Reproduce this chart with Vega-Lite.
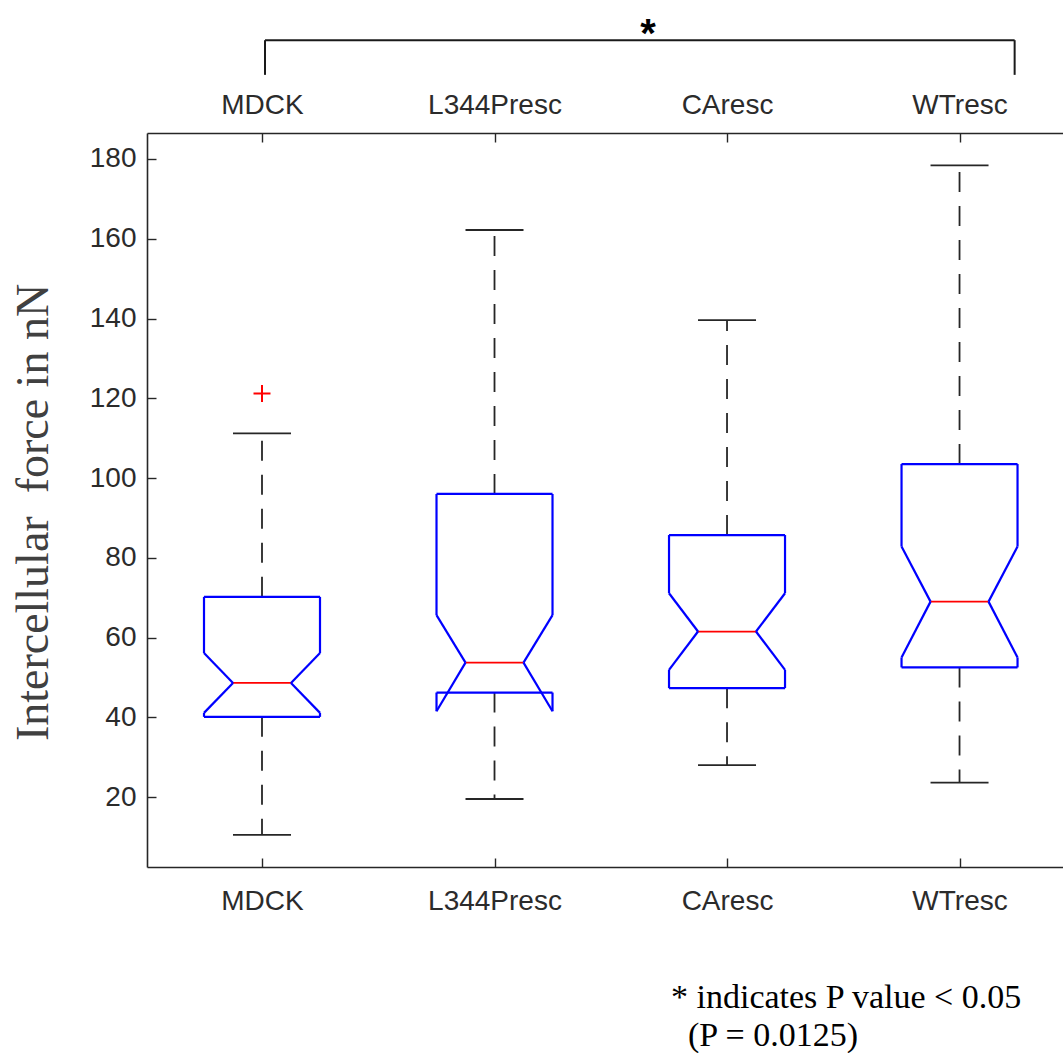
{
  "$schema": "https://vega.github.io/schema/vega-lite/v6.json",
  "width": 916,
  "height": 734,
  "autosize": {"type": "none"},
  "padding": {"left": 147, "top": 133, "right": 0, "bottom": 186},
  "background": "white",
  "resolve": {"axis": {"x": "independent", "y": "independent"}},
  "config": {
    "view": {"stroke": null},
    "axis": {
      "grid": false,
      "domainColor": "#262626",
      "domainWidth": 1.6,
      "tickColor": "#262626",
      "tickWidth": 1.4,
      "tickSize": -9,
      "labelFont": "Liberation Sans",
      "labelFontSize": 28,
      "labelColor": "#2b2b2b",
      "titleFont": "Liberation Serif",
      "titleFontWeight": "normal"
    },
    "axisY": {
      "titleFontSize": 46,
      "titleColor": "#404040",
      "titleAngle": -90,
      "titleX": -100,
      "titleY": 379,
      "titleAlign": "center",
      "titleBaseline": "alphabetic"
    }
  },
  "title": {
    "text": ["* indicates P value < 0.05", "\u200b\u00a0\u00a0(P = 0.0125)"],
    "orient": "bottom",
    "anchor": "start",
    "frame": "group",
    "dx": 524,
    "offset": 66,
    "baseline": "top",
    "font": "Liberation Serif",
    "fontSize": 34,
    "fontWeight": "normal",
    "color": "#000000",
    "lineHeight": 38
  },
  "datasets": {
    "boxes": [
      {"group": "MDCK", "pos": 1, "whiskerLo": 10.5, "q1": 40.1, "notchLo": 41.1, "median": 48.6, "notchHi": 56.1, "q3": 70.2, "whiskerHi": 111.2},
      {"group": "L344Presc", "pos": 2, "whiskerLo": 19.5, "q1": 46.2, "notchLo": 41.5, "median": 53.7, "notchHi": 65.6, "q3": 96.0, "whiskerHi": 162.2},
      {"group": "CAresc", "pos": 3, "whiskerLo": 28.0, "q1": 47.3, "notchLo": 51.9, "median": 61.5, "notchHi": 71.1, "q3": 85.7, "whiskerHi": 139.6},
      {"group": "WTresc", "pos": 4, "whiskerLo": 23.6, "q1": 52.5, "notchLo": 55.0, "median": 69.0, "notchHi": 82.8, "q3": 103.5, "whiskerHi": 178.4}
    ],
    "outliers": [
      {"group": "MDCK", "pos": 1, "value": 121.2}
    ],
    "annotation": [
      {"comparison": "MDCK vs WTresc", "start": 1.013, "end": 4.237, "level": 209.8, "legEnd": 201.1, "marker": "*", "markerPos": 2.66, "markerLevel": 208.0}
    ]
  },
  "layer": [
    {
      "data": {"name": "boxes"},
      "mark": {"type": "rule", "color": "#ff0000", "strokeWidth": 1.8, "xOffset": -29, "x2Offset": 29},
      "encoding": {
        "x": {"field": "pos", "type": "quantitative", "scale": {"domain": [0.5054, 4.445], "nice": false, "zero": false},
          "axis": {"orient": "bottom", "values": [1, 2, 3, 4], "labelExpr": "['', 'MDCK', 'L344Presc', 'CAresc', 'WTresc'][datum.value]", "labelPadding": 29, "title": null}},
        "x2": {"field": "pos"},
        "y": {"field": "median", "type": "quantitative", "scale": {"domain": [2.45, 186.52], "nice": false, "zero": false},
          "axis": {"orient": "left", "values": [20, 40, 60, 80, 100, 120, 140, 160, 180], "labelPadding": 20, "title": "Intercellular\u00a0 force in nN"}}
      }
    },
    {
      "data": {"name": "boxes"},
      "mark": {"type": "rule", "color": "#262626", "strokeWidth": 1.8, "strokeDash": [20, 14]},
      "encoding": {
        "x": {"field": "pos", "type": "quantitative", "scale": {"domain": [0.5054, 4.445], "nice": false, "zero": false},
          "axis": {"orient": "top", "values": [1, 2, 3, 4], "labelExpr": "['', 'MDCK', 'L344Presc', 'CAresc', 'WTresc'][datum.value]", "labelPadding": 23, "title": null}},
        "y": {"field": "q3", "type": "quantitative", "scale": {"domain": [2.45, 186.52], "nice": false, "zero": false}, "axis": null},
        "y2": {"field": "whiskerHi"}
      }
    },
    {
      "data": {"name": "boxes"},
      "mark": {"type": "rule", "color": "#262626", "strokeWidth": 1.8, "strokeDash": [20, 14]},
      "encoding": {
        "x": {"field": "pos", "type": "quantitative", "scale": {"domain": [0.5054, 4.445], "nice": false, "zero": false}, "axis": null},
        "y": {"field": "q1", "type": "quantitative", "scale": {"domain": [2.45, 186.52], "nice": false, "zero": false}, "axis": null},
        "y2": {"field": "whiskerLo"}
      }
    },
    {
      "data": {"name": "boxes"},
      "mark": {"type": "rule", "color": "#262626", "strokeWidth": 1.8, "xOffset": -29, "x2Offset": 29},
      "encoding": {
        "x": {"field": "pos", "type": "quantitative", "scale": {"domain": [0.5054, 4.445], "nice": false, "zero": false}, "axis": null},
        "x2": {"field": "pos"},
        "y": {"field": "whiskerHi", "type": "quantitative", "scale": {"domain": [2.45, 186.52], "nice": false, "zero": false}, "axis": null}
      }
    },
    {
      "data": {"name": "boxes"},
      "mark": {"type": "rule", "color": "#262626", "strokeWidth": 1.8, "xOffset": -29, "x2Offset": 29},
      "encoding": {
        "x": {"field": "pos", "type": "quantitative", "scale": {"domain": [0.5054, 4.445], "nice": false, "zero": false}, "axis": null},
        "x2": {"field": "pos"},
        "y": {"field": "whiskerLo", "type": "quantitative", "scale": {"domain": [2.45, 186.52], "nice": false, "zero": false}, "axis": null}
      }
    },
    {
      "data": {"name": "boxes"},
      "mark": {"type": "rule", "color": "#0000ff", "strokeWidth": 2.2, "xOffset": -58, "x2Offset": 58},
      "encoding": {
        "x": {"field": "pos", "type": "quantitative", "scale": {"domain": [0.5054, 4.445], "nice": false, "zero": false}, "axis": null},
        "x2": {"field": "pos"},
        "y": {"field": "q3", "type": "quantitative", "scale": {"domain": [2.45, 186.52], "nice": false, "zero": false}, "axis": null}
      }
    },
    {
      "data": {"name": "boxes"},
      "mark": {"type": "rule", "color": "#0000ff", "strokeWidth": 2.2, "xOffset": -58, "x2Offset": 58},
      "encoding": {
        "x": {"field": "pos", "type": "quantitative", "scale": {"domain": [0.5054, 4.445], "nice": false, "zero": false}, "axis": null},
        "x2": {"field": "pos"},
        "y": {"field": "q1", "type": "quantitative", "scale": {"domain": [2.45, 186.52], "nice": false, "zero": false}, "axis": null}
      }
    },
    {
      "data": {"name": "boxes"},
      "mark": {"type": "rule", "color": "#0000ff", "strokeWidth": 2.2, "xOffset": -58},
      "encoding": {
        "x": {"field": "pos", "type": "quantitative", "scale": {"domain": [0.5054, 4.445], "nice": false, "zero": false}, "axis": null},
        "y": {"field": "q3", "type": "quantitative", "scale": {"domain": [2.45, 186.52], "nice": false, "zero": false}, "axis": null},
        "y2": {"field": "notchHi"}
      }
    },
    {
      "data": {"name": "boxes"},
      "mark": {"type": "rule", "color": "#0000ff", "strokeWidth": 2.2, "xOffset": 58},
      "encoding": {
        "x": {"field": "pos", "type": "quantitative", "scale": {"domain": [0.5054, 4.445], "nice": false, "zero": false}, "axis": null},
        "y": {"field": "q3", "type": "quantitative", "scale": {"domain": [2.45, 186.52], "nice": false, "zero": false}, "axis": null},
        "y2": {"field": "notchHi"}
      }
    },
    {
      "data": {"name": "boxes"},
      "mark": {"type": "rule", "color": "#0000ff", "strokeWidth": 2.2, "xOffset": -58},
      "encoding": {
        "x": {"field": "pos", "type": "quantitative", "scale": {"domain": [0.5054, 4.445], "nice": false, "zero": false}, "axis": null},
        "y": {"field": "notchLo", "type": "quantitative", "scale": {"domain": [2.45, 186.52], "nice": false, "zero": false}, "axis": null},
        "y2": {"field": "q1"}
      }
    },
    {
      "data": {"name": "boxes"},
      "mark": {"type": "rule", "color": "#0000ff", "strokeWidth": 2.2, "xOffset": 58},
      "encoding": {
        "x": {"field": "pos", "type": "quantitative", "scale": {"domain": [0.5054, 4.445], "nice": false, "zero": false}, "axis": null},
        "y": {"field": "notchLo", "type": "quantitative", "scale": {"domain": [2.45, 186.52], "nice": false, "zero": false}, "axis": null},
        "y2": {"field": "q1"}
      }
    },
    {
      "data": {"name": "boxes"},
      "mark": {"type": "rule", "color": "#0000ff", "strokeWidth": 2.2, "xOffset": -58, "x2Offset": -29},
      "encoding": {
        "x": {"field": "pos", "type": "quantitative", "scale": {"domain": [0.5054, 4.445], "nice": false, "zero": false}, "axis": null},
        "x2": {"field": "pos"},
        "y": {"field": "notchHi", "type": "quantitative", "scale": {"domain": [2.45, 186.52], "nice": false, "zero": false}, "axis": null},
        "y2": {"field": "median"}
      }
    },
    {
      "data": {"name": "boxes"},
      "mark": {"type": "rule", "color": "#0000ff", "strokeWidth": 2.2, "xOffset": 58, "x2Offset": 29},
      "encoding": {
        "x": {"field": "pos", "type": "quantitative", "scale": {"domain": [0.5054, 4.445], "nice": false, "zero": false}, "axis": null},
        "x2": {"field": "pos"},
        "y": {"field": "notchHi", "type": "quantitative", "scale": {"domain": [2.45, 186.52], "nice": false, "zero": false}, "axis": null},
        "y2": {"field": "median"}
      }
    },
    {
      "data": {"name": "boxes"},
      "mark": {"type": "rule", "color": "#0000ff", "strokeWidth": 2.2, "xOffset": -58, "x2Offset": -29},
      "encoding": {
        "x": {"field": "pos", "type": "quantitative", "scale": {"domain": [0.5054, 4.445], "nice": false, "zero": false}, "axis": null},
        "x2": {"field": "pos"},
        "y": {"field": "notchLo", "type": "quantitative", "scale": {"domain": [2.45, 186.52], "nice": false, "zero": false}, "axis": null},
        "y2": {"field": "median"}
      }
    },
    {
      "data": {"name": "boxes"},
      "mark": {"type": "rule", "color": "#0000ff", "strokeWidth": 2.2, "xOffset": 58, "x2Offset": 29},
      "encoding": {
        "x": {"field": "pos", "type": "quantitative", "scale": {"domain": [0.5054, 4.445], "nice": false, "zero": false}, "axis": null},
        "x2": {"field": "pos"},
        "y": {"field": "notchLo", "type": "quantitative", "scale": {"domain": [2.45, 186.52], "nice": false, "zero": false}, "axis": null},
        "y2": {"field": "median"}
      }
    },
    {
      "data": {"name": "outliers"},
      "mark": {"type": "point", "shape": "M-1,0L1,0M0,-1L0,1", "filled": false, "stroke": "#ff0000", "strokeWidth": 2, "size": 289, "opacity": 1},
      "encoding": {
        "x": {"field": "pos", "type": "quantitative", "scale": {"domain": [0.5054, 4.445], "nice": false, "zero": false}, "axis": null},
        "y": {"field": "value", "type": "quantitative", "scale": {"domain": [2.45, 186.52], "nice": false, "zero": false}, "axis": null}
      }
    },
    {
      "data": {"name": "annotation"},
      "mark": {"type": "rule", "color": "#1a1a1a", "strokeWidth": 2},
      "encoding": {
        "x": {"field": "start", "type": "quantitative", "scale": {"domain": [0.5054, 4.445], "nice": false, "zero": false}, "axis": null},
        "x2": {"field": "end"},
        "y": {"field": "level", "type": "quantitative", "scale": {"domain": [2.45, 186.52], "nice": false, "zero": false}, "axis": null}
      }
    },
    {
      "data": {"name": "annotation"},
      "mark": {"type": "rule", "color": "#1a1a1a", "strokeWidth": 2},
      "encoding": {
        "x": {"field": "start", "type": "quantitative", "scale": {"domain": [0.5054, 4.445], "nice": false, "zero": false}, "axis": null},
        "y": {"field": "level", "type": "quantitative", "scale": {"domain": [2.45, 186.52], "nice": false, "zero": false}, "axis": null},
        "y2": {"field": "legEnd"}
      }
    },
    {
      "data": {"name": "annotation"},
      "mark": {"type": "rule", "color": "#1a1a1a", "strokeWidth": 2},
      "encoding": {
        "x": {"field": "end", "type": "quantitative", "scale": {"domain": [0.5054, 4.445], "nice": false, "zero": false}, "axis": null},
        "y": {"field": "level", "type": "quantitative", "scale": {"domain": [2.45, 186.52], "nice": false, "zero": false}, "axis": null},
        "y2": {"field": "legEnd"}
      }
    },
    {
      "data": {"name": "annotation"},
      "mark": {"type": "text", "font": "Liberation Sans", "fontSize": 40, "fontWeight": "bold", "color": "#000000", "align": "center", "baseline": "alphabetic"},
      "encoding": {
        "x": {"field": "markerPos", "type": "quantitative", "scale": {"domain": [0.5054, 4.445], "nice": false, "zero": false}, "axis": null},
        "y": {"field": "markerLevel", "type": "quantitative", "scale": {"domain": [2.45, 186.52], "nice": false, "zero": false}, "axis": null},
        "text": {"field": "marker"}
      }
    }
  ]
}
